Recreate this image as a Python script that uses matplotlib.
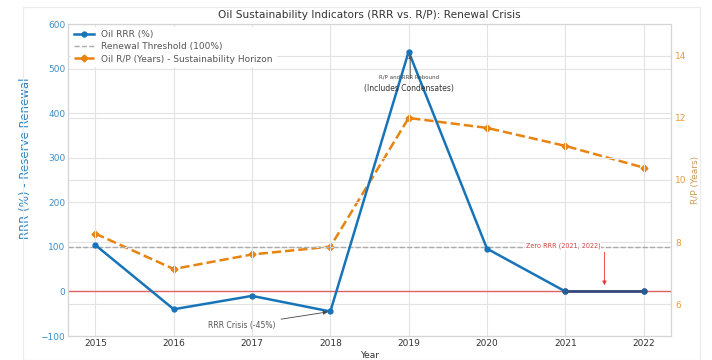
import matplotlib
matplotlib.use("Agg")
import matplotlib.pyplot as plt
from matplotlib.patches import Rectangle

years = [2015, 2016, 2017, 2018, 2019, 2020, 2021, 2022]
rrr = [104, -40, -10, -45, 538, 96, 0, 0]
rp = [8.27, 7.13, 7.6, 7.85, 12.0, 11.68, 11.1, 10.4]
zero_years = [2021, 2022]
zero_vals = [0, 0]

BLUE = '#1874b8'
ORANGE = '#E8830F'
GRID = '#e3e3e3'

plt.rcParams['font.family'] = ['DejaVu Sans']

fig = plt.figure(figsize=(7.12, 3.6), dpi=100)
fig.patches.append(Rectangle((23/712, 0), (700-23)/712, 1-7/360, transform=fig.transFigure,
                             fill=False, edgecolor='#ececec', lw=0.8))
ax = fig.add_axes([68/712, 24/360, (671-68)/712, (336-24)/360])
ax2 = ax.twinx()

for a in (ax, ax2):
    for s in a.spines.values():
        s.set_color('#d5d5d5')
        s.set_linewidth(0.8)
    a.tick_params(length=0)

ax.set_zorder(ax2.get_zorder() + 1)
ax.patch.set_visible(False)

ax.grid(True, color=GRID, lw=0.8)
ax2.grid(True, axis='y', color=GRID, lw=0.8)

l1, = ax.plot(years, rrr, color=BLUE, lw=1.8, marker='o', ms=3.5, label='Oil RRR (%)', zorder=5)
l2 = ax.axhline(100, color='#aaaaaa', ls='--', lw=1, label='Renewal Threshold (100%)')
ax.axhline(0, color='#e05555', lw=1, alpha=0.9)
ax.plot(zero_years, zero_vals, color='#3d4877', lw=1.8, zorder=6)
ax.plot(zero_years, zero_vals, 'o', color='#2a5d95', ms=3.5, zorder=7)
l3, = ax2.plot(years, rp, color=ORANGE, lw=1.8, ls='--', marker='D', ms=3.5,
               label='Oil R/P (Years) - Sustainability Horizon')

ax.set_ylim(-100, 600)
ax2.set_ylim(4.97, 15.03)
ax2.set_yticks([6, 8, 10, 12, 14])
ax.set_xticks(years)

ax.tick_params(axis='x', labelsize=6.5, colors='#333333', pad=2)
ax.tick_params(axis='y', labelsize=6.5, labelcolor='#3d8ec7', pad=2)
ax2.tick_params(axis='y', labelsize=6.5, labelcolor='#eb9a3c', pad=3)

ax.set_ylabel('RRR (%) - Reserve Renewal', color='#2f82bf', fontsize=8.5)
ax.yaxis.set_label_coords(-0.06, 0.57)
ax2.set_ylabel('R/P (Years)', color='#c99a5a', fontsize=6.5, labelpad=3)
ax.set_xlabel('Year', fontsize=6.5, color='#333333', labelpad=2)
ax.set_title('Oil Sustainability Indicators (RRR vs. R/P): Renewal Crisis', fontsize=7.6,
             color='#333333', pad=4)

leg = ax.legend(handles=[l1, l2, l3], loc='upper left', fontsize=6.5, frameon=True,
                framealpha=1, edgecolor='none', labelcolor='#555555', handlelength=2.2,
                borderaxespad=0.3, labelspacing=0.35)

ax.annotate('', xy=(2019.02, 534), xytext=(2019.02, 478),
            arrowprops=dict(arrowstyle='-|>', color='#555555', lw=0.7, mutation_scale=5,
                            shrinkA=0, shrinkB=1), zorder=8)
ax.text(2019, 475, 'R/P and RRR Rebound', ha='center', va='bottom', fontsize=4, color='#444444', zorder=8)
ax.text(2019, 455, '(Includes Condensates)', ha='center', va='center', fontsize=5.5, color='#333333', zorder=8)

ax.annotate('RRR Crisis (-45%)', xy=(2018, -45), xytext=(2017.3, -76), ha='right', va='center',
            fontsize=5.5, color='#555555',
            arrowprops=dict(arrowstyle='-|>', color='#444444', lw=0.6, mutation_scale=6,
                            shrinkA=2, shrinkB=2), zorder=8)

ax.text(2020.97, 103, 'Zero RRR (2021, 2022)', ha='center', va='center', fontsize=4.7,
        color='#d04040', bbox=dict(facecolor='white', edgecolor='none', pad=0.6), zorder=8)
ax.annotate('', xy=(2021.5, 14), xytext=(2021.5, 88),
            arrowprops=dict(arrowstyle='-|>', color='#ee3333', lw=0.6, mutation_scale=6,
                            shrinkA=0, shrinkB=0), zorder=8)

fig.savefig('out.png', dpi=100)
